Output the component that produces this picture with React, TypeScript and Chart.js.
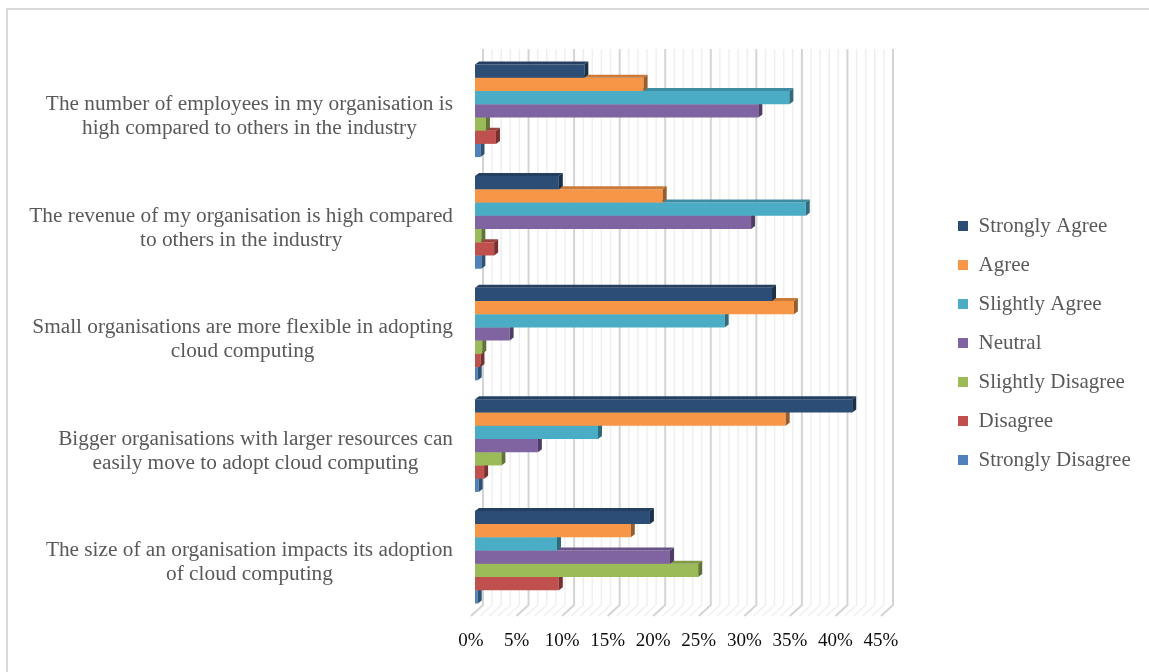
import React, { useEffect, useRef } from "react";
import { Chart, registerables } from "chart.js";

Chart.register(...registerables);

const categories: string[][] = [
  ["The number of employees in my organisation is", "high compared to others in the industry"],
  ["The revenue of my organisation is high compared", "to others in the industry"],
  ["Small organisations are more flexible in adopting", "cloud computing"],
  ["Bigger organisations with larger resources can", "easily move to adopt cloud computing"],
  ["The size of an organisation impacts its adoption", "of cloud computing"],
];

const seriesNames = [
  "Strongly Agree",
  "Agree",
  "Slightly Agree",
  "Neutral",
  "Slightly Disagree",
  "Disagree",
  "Strongly Disagree",
];

const stronglyAgree = [12.0, 9.2, 32.6, 41.4, 19.2];
const agree = [18.5, 20.6, 35.0, 34.1, 17.1];
const slightlyAgree = [34.5, 36.3, 27.4, 13.5, 9.0];
const neutral = [31.1, 30.3, 3.8, 6.9, 21.4];
const slightlyDisagree = [1.2, 0.7, 0.8, 2.9, 24.5];
const disagree = [2.3, 2.1, 0.6, 1.0, 9.2];
const stronglyDisagree = [0.6, 0.7, 0.3, 0.4, 0.3];

const seriesValues = [
  stronglyAgree,
  agree,
  slightlyAgree,
  neutral,
  slightlyDisagree,
  disagree,
  stronglyDisagree,
];

const seriesColors = ["#2C4D75", "#F79646", "#4BACC6", "#8064A2", "#9BBB59", "#C0504D", "#4F81BD"];

const xMin = 0;
const xMax = 45;
const xMajorStep = 5;
const xMinorStep = 1;

const TEXT = "#595959";
const AXIS_TEXT = "#0D0D0D";
const FONT = "'Liberation Serif', 'Times New Roman', serif";

const LEGEND_WIDTH = 209;
const CAT_FONT_SIZE = 21.3;
const CAT_LINE_H = 24;
const CAT_GAP = 22;
const CAT_DY = 5.5;

function shade(hex: string, f: number): string {
  const h = hex.replace("#", "");
  const r = Math.round(parseInt(h.slice(0, 2), 16) * f);
  const g = Math.round(parseInt(h.slice(2, 4), 16) * f);
  const b = Math.round(parseInt(h.slice(4, 6), 16) * f);
  return `rgb(${r},${g},${b})`;
}

const BAR_DX = 4;
const BAR_DY = 3;

const bar3d = {
  id: "bar3d",
  afterDatasetDraw(chart: any, args: any) {
    const meta = args.meta;
    const ctx = chart.ctx;
    const ds = chart.data.datasets[args.index];
    const color = ds.backgroundColor as string;
    meta.data.forEach((el: any) => {
      const { x, y, base, height } = el.getProps(["x", "y", "base", "height"], true);
      const top = y - height / 2;
      const bot = y + height / 2;
      ctx.save();
      ctx.fillStyle = shade(color, 0.82);
      ctx.beginPath();
      ctx.moveTo(base, top);
      ctx.lineTo(base + BAR_DX, top - BAR_DY);
      ctx.lineTo(x + BAR_DX, top - BAR_DY);
      ctx.lineTo(x, top);
      ctx.closePath();
      ctx.fill();
      ctx.fillStyle = shade(color, 0.62);
      ctx.beginPath();
      ctx.moveTo(x, top);
      ctx.lineTo(x + BAR_DX, top - BAR_DY);
      ctx.lineTo(x + BAR_DX, bot - BAR_DY);
      ctx.lineTo(x, bot);
      ctx.closePath();
      ctx.fill();
      ctx.restore();
    });
  },
};

const grid3d = {
  id: "grid3d",
  beforeDatasetsDraw(chart: any) {
    const { ctx, chartArea } = chart;
    const xs = chart.scales.x;
    ctx.save();
    for (let v = xMin; v <= xMax + 1e-9; v += xMinorStep) {
      const px = xs.getPixelForValue(v);
      const major = Math.abs(v % xMajorStep) < 1e-9;
      ctx.strokeStyle = major ? "#D4D4D4" : "#EFEFEF";
      ctx.lineWidth = major ? 2 : 1.5;
      ctx.beginPath();
      ctx.moveTo(px + 8, chartArea.top - 6);
      ctx.lineTo(px + 8, chartArea.bottom - 8);
      ctx.lineTo(px - 4, chartArea.bottom + 3);
      ctx.stroke();
    }
    ctx.restore();
  },
};

// Category labels: lines centred within each label block, blocks right-aligned to the axis
const categoryLabels = {
  id: "categoryLabels",
  afterDraw(chart: any) {
    const { ctx, chartArea } = chart;
    const ys = chart.scales.y;
    ctx.save();
    ctx.font = `${CAT_FONT_SIZE}px ${FONT}`;
    ctx.fillStyle = TEXT;
    ctx.textAlign = "center";
    ctx.textBaseline = "middle";
    categories.forEach((lines, i) => {
      const cy = ys.getPixelForValue(i) + CAT_DY;
      const w = Math.max(...lines.map((l) => ctx.measureText(l).width));
      const cx = chartArea.left - CAT_GAP - w / 2;
      lines.forEach((l, j) => {
        ctx.fillText(l, cx, cy + (j - (lines.length - 1) / 2) * CAT_LINE_H);
      });
    });
    ctx.restore();
  },
};

const legendWidth = {
  id: "legendWidth",
  beforeLayout(chart: any) {
    const lg = chart.legend;
    if (lg && !lg.__fixedWidth) {
      const orig = lg.fit.bind(lg);
      lg.fit = function () {
        orig();
        this.width = Math.max(this.width, LEGEND_WIDTH);
      };
      lg.__fixedWidth = true;
    }
  },
};

export default function App() {
  const ref = useRef<HTMLCanvasElement | null>(null);

  useEffect(() => {
    if (!ref.current) return;
    const chart = new Chart(ref.current, {
      type: "bar",
      data: {
        labels: categories,
        datasets: seriesNames.map((name, i) => ({
          label: name,
          data: seriesValues[i],
          backgroundColor: seriesColors[i],
          borderWidth: 0,
          categoryPercentage: 0.83,
          barPercentage: 1.0,
        })),
      },
      options: {
        indexAxis: "y",
        responsive: false,
        animation: false,
        layout: { padding: { left: 0, top: 4, right: 0, bottom: 0 } },
        plugins: {
          tooltip: { enabled: false },
          legend: {
            position: "right",
            labels: {
              boxWidth: 10,
              boxHeight: 10,
              padding: 18,
              color: TEXT,
              font: { family: FONT, size: 21 },
            },
          },
        },
        scales: {
          x: {
            type: "linear",
            min: xMin,
            max: xMax,
            grid: { display: false, drawTicks: false },
            border: { display: false },
            ticks: {
              stepSize: xMajorStep,
              padding: 17,
              labelOffset: -4,
              maxRotation: 0,
              color: AXIS_TEXT,
              font: { family: FONT, size: 19 },
              callback: (v: any) => `${v}%`,
            },
            afterFit: (s: any) => {
              s.height = 59;
            },
          },
          topGap: {
            type: "linear",
            axis: "x",
            position: "top",
            display: true,
            grid: { display: false, drawTicks: false },
            border: { display: false },
            ticks: { display: false },
            afterFit: (s: any) => {
              s.height = 41;
            },
          },
          y: {
            grid: { display: false, drawTicks: false },
            border: { display: false },
            ticks: { display: false },
            afterFit: (s: any) => {
              s.width = 467;
            },
          },
          gap: {
            type: "linear",
            axis: "y",
            position: "right",
            display: true,
            grid: { display: false, drawTicks: false },
            border: { display: false },
            ticks: { display: false },
            afterFit: (s: any) => {
              s.width = 55;
            },
          },
        },
      } as any,
      plugins: [grid3d, bar3d, categoryLabels, legendWidth],
    });
    return () => chart.destroy();
  }, []);

  return (
    <div
      style={{
        position: "absolute",
        left: 6,
        top: 8,
        width: 1143,
        height: 664,
        boxSizing: "border-box",
        borderTop: "2px solid #D9D9D9",
        borderLeft: "2px solid #D9D9D9",
        background: "#fff",
        overflow: "hidden",
      }}
    >
      <canvas ref={ref} width={1141} height={662} style={{ display: "block" }} />
    </div>
  );
}
